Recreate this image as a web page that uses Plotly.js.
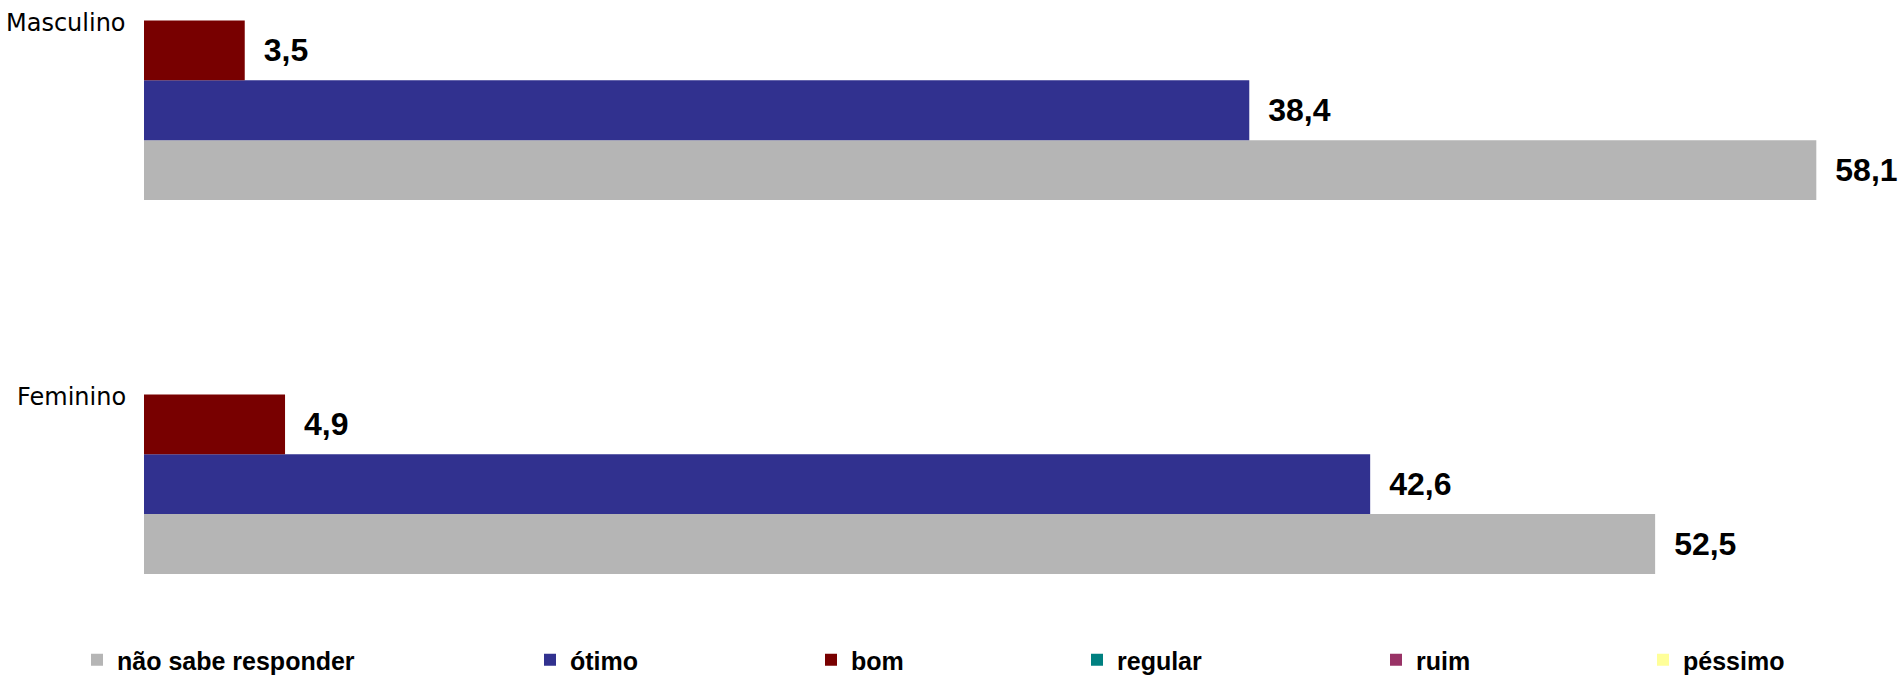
<!DOCTYPE html>
<html>
<head>
<meta charset="utf-8">
<script src="https://cdn.plot.ly/plotly-3.0.1.min.js"></script>
<style>html,body{margin:0;padding:0;background:#fff;}#chart{width:1903px;height:677px;}</style>
</head>
<body>
<div id="chart"></div>
<script>
// Categories (bottom to top on the axis)
const categories = ['Feminino', 'Masculino'];
// Series values (%)
const naoSabe = [52.5, 58.1];
const otimo   = [42.6, 38.4];
const bom     = [4.9, 3.5];
const regular = [0, 0];
const ruim    = [0, 0];
const pessimo = [0, 0];

const seriesNames = ['não sabe responder', 'ótimo', 'bom', 'regular', 'ruim', 'péssimo'];
const seriesColors = ['#b5b5b5', '#31318f', '#780000', '#008080', '#993366', '#ffff99'];

const fmt = v => v.toFixed(1).replace('.', ',');
const labelFont = {family: 'Liberation Sans, Arial, sans-serif', size: 32, color: '#000', weight: 'bold'};

function barTrace(vals, i, yax, withText) {
  return {
    type: 'bar', orientation: 'h',
    x: vals, y: categories,
    yaxis: yax,
    name: seriesNames[i],
    legend: i === 0 ? 'legend' : 'legend' + (i + 1),
    marker: {color: seriesColors[i], line: {width: 0}},
    text: withText ? vals.map(v => '\u2002' + fmt(v)) : undefined,
    textposition: withText ? 'outside' : 'none',
    textfont: labelFont,
    cliponaxis: false,
    constraintext: 'none',
    hoverinfo: 'skip'
  };
}

const data = [
  barTrace(naoSabe, 0, 'y', true),
  barTrace(otimo, 1, 'y', true),
  barTrace(bom, 2, 'y', true),
  barTrace(regular, 3, 'y2', false),
  barTrace(ruim, 4, 'y2', false),
  barTrace(pessimo, 5, 'y2', false)
];

const legendTextStarts = [117, 570, 851, 1117, 1416, 1683];
const W = 1903, H = 677;
const legendFont = {family: 'Liberation Sans, Arial, sans-serif', size: 25, color: '#000', weight: 'bold'};

const layout = {
  width: W, height: H,
  paper_bgcolor: '#fff', plot_bgcolor: '#fff',
  margin: {l: 144, r: 32, t: 10, b: 77},
  barmode: 'group',
  bargap: 0.52,
  bargroupgap: 0,
  xaxis: {range: [0, 60], visible: false, showgrid: false, zeroline: false, fixedrange: true},
  yaxis: {type: 'category', range: [-0.3097, 1.268], showticklabels: false, showgrid: false,
          zeroline: false, showline: false, ticks: '', fixedrange: true},
  yaxis2: {type: 'category', overlaying: 'y', range: [-0.3097, 1.268], visible: false, fixedrange: true},
  annotations: categories.map(c => ({
    text: c, xref: 'paper', yref: 'y', x: 0, y: c,
    xanchor: 'right', yanchor: 'middle', xshift: -16, yshift: 87,
    showarrow: false,
    font: {family: 'DejaVu Sans, Verdana, sans-serif', size: 24, color: '#000'}
  })),
  showlegend: true
};

seriesNames.forEach((n, i) => {
  const key = i === 0 ? 'legend' : 'legend' + (i + 1);
  layout[key] = {
    orientation: 'h',
    xref: 'container', yref: 'container',
    x: (legendTextStarts[i] - 40) / W,
    y: (H - 660) / H,
    xanchor: 'left', yanchor: 'middle',
    bgcolor: 'rgba(0,0,0,0)', borderwidth: 0,
    font: legendFont
  };
});

Plotly.newPlot('chart', data, layout, {staticPlot: true, displayModeBar: false});
</script>
</body>
</html>
